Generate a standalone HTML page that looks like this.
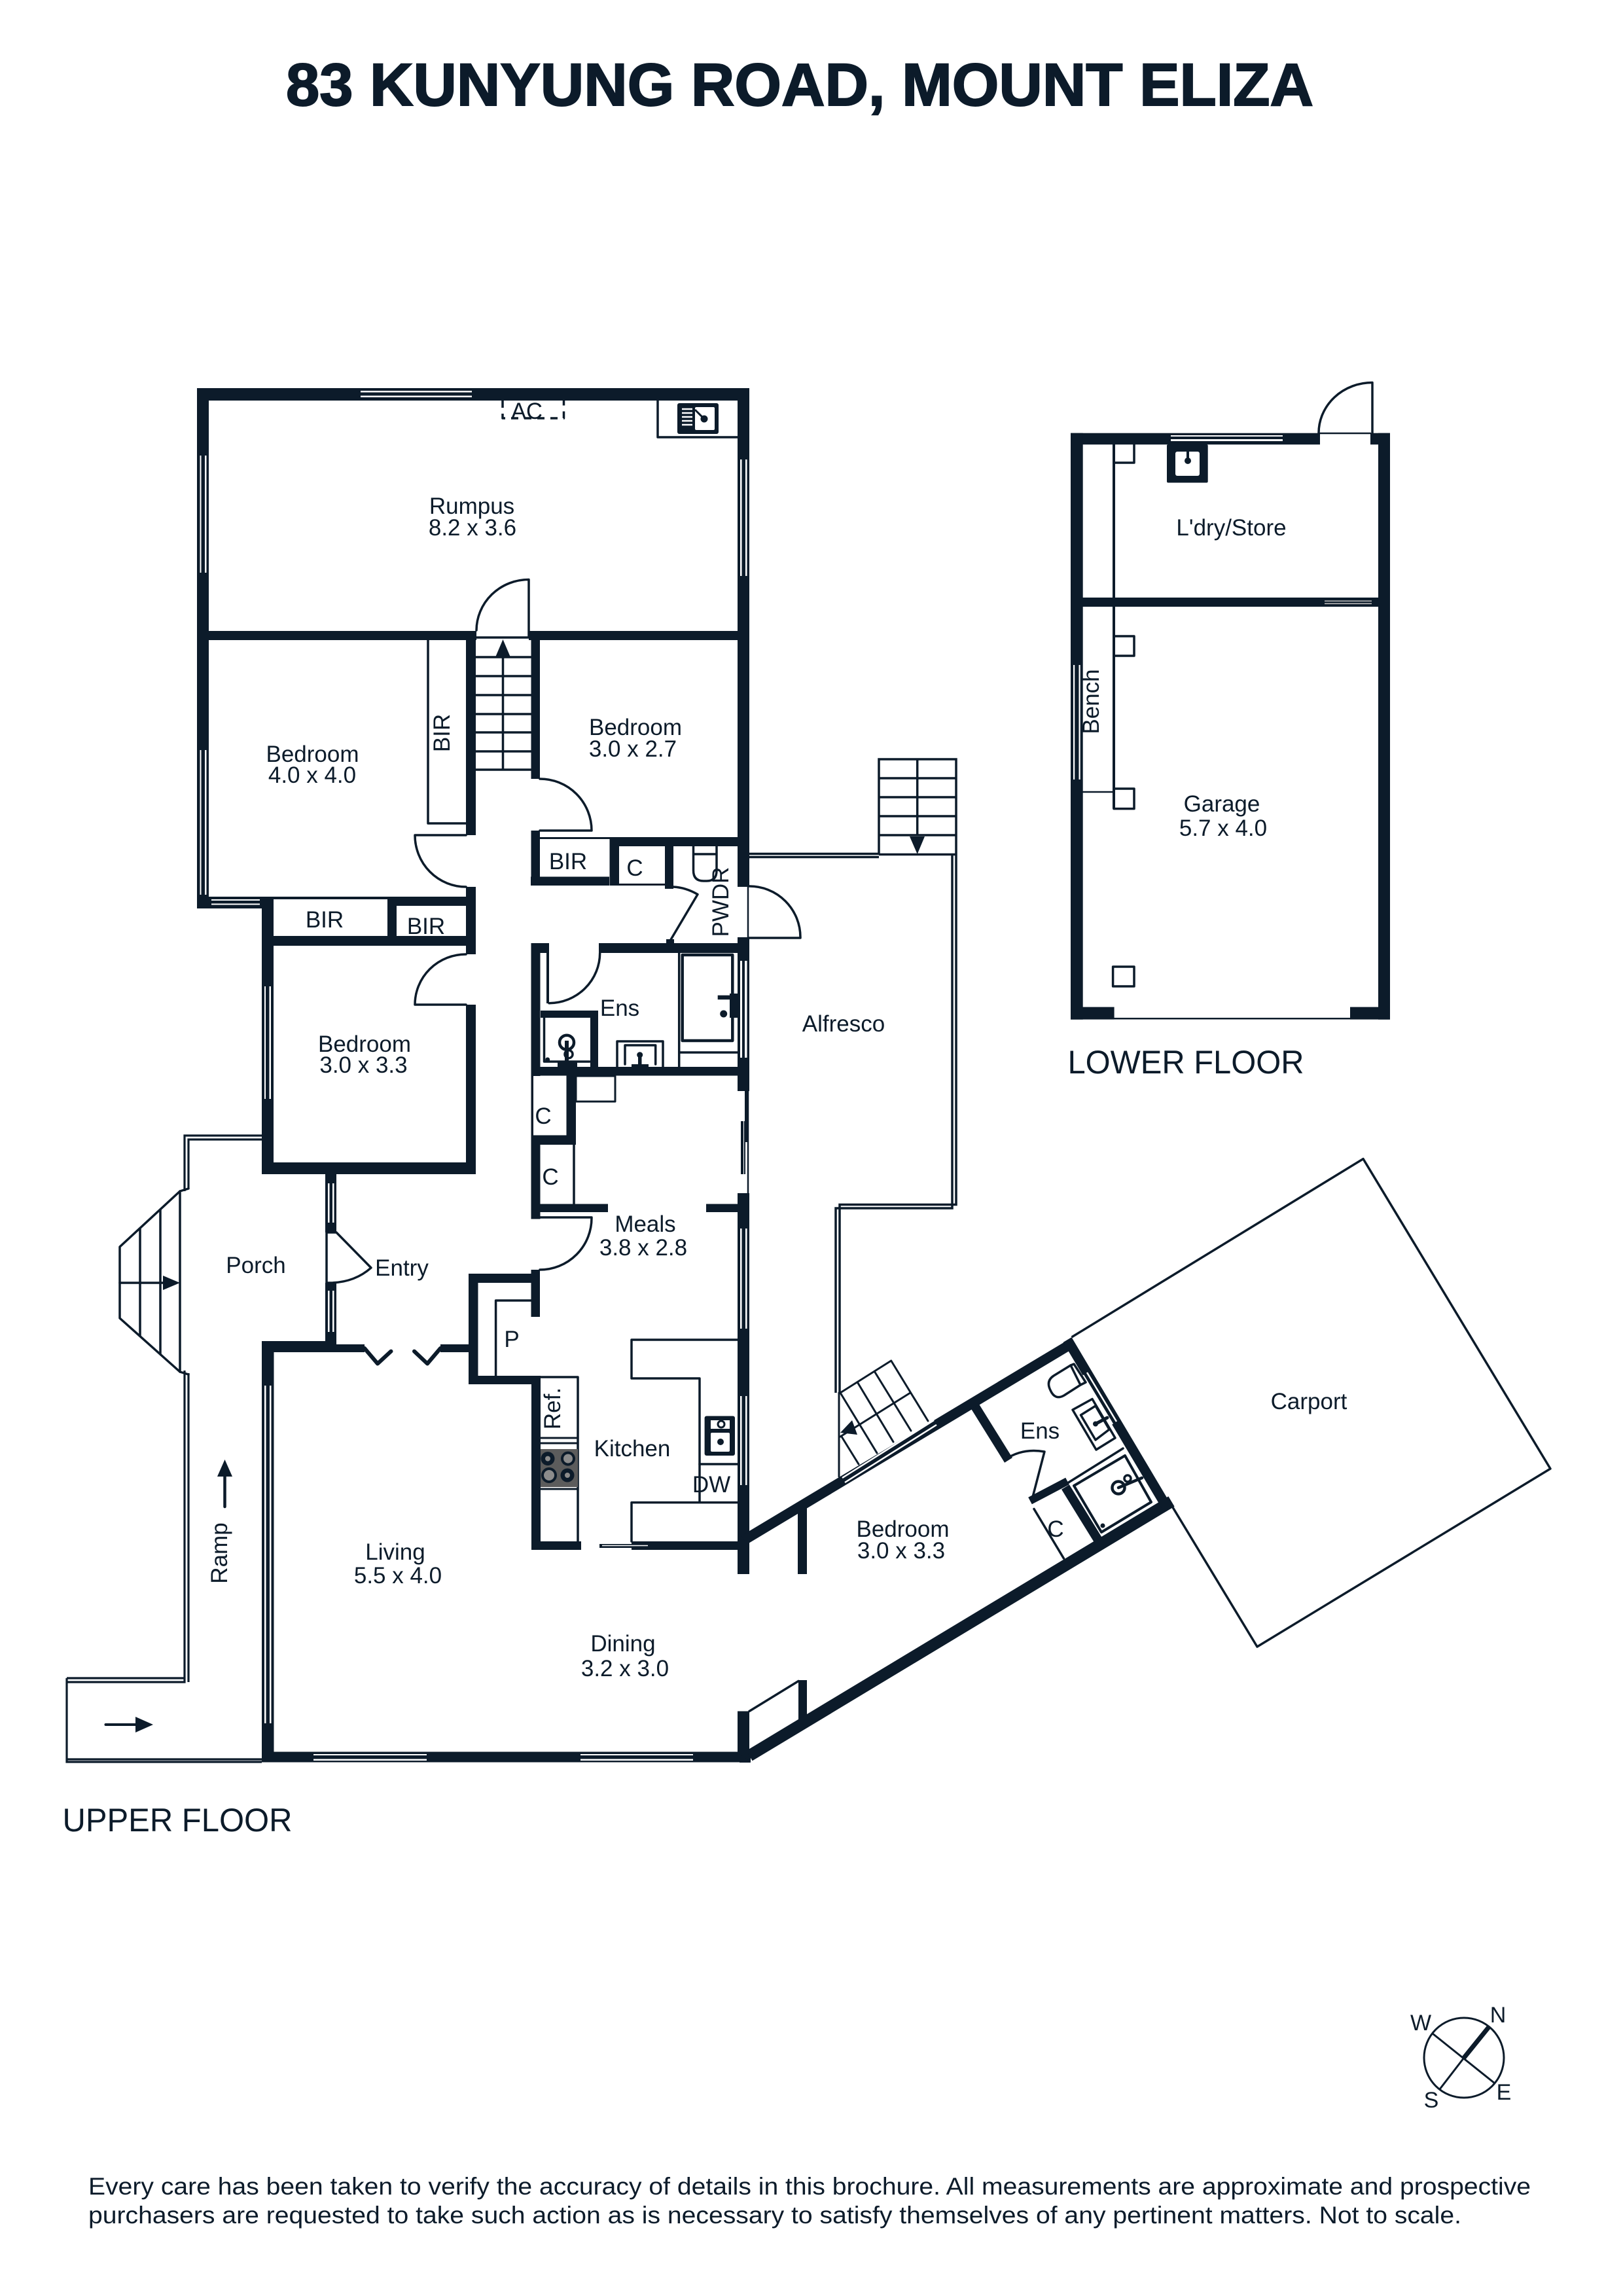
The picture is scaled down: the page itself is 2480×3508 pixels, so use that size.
<!DOCTYPE html>
<html><head><meta charset="utf-8">
<style>
html,body{margin:0;padding:0;background:#fff;width:2480px;height:3508px;overflow:hidden}
svg{display:block}
text{font-family:"Liberation Sans",sans-serif;fill:#0c1b2a;font-size:35px;text-anchor:middle}
.w{fill:#0c1b2a}
.wh{fill:#fff}
.l{fill:none;stroke:#0c1b2a;stroke-width:3.5;stroke-linecap:round;stroke-linejoin:round}
.t{fill:none;stroke:#0c1b2a;stroke-width:2.5}
.ws{fill:none;stroke:#fff;stroke-width:3}
</style></head><body>
<svg width="2480" height="3508" viewBox="0 0 2480 3508" xmlns="http://www.w3.org/2000/svg">
<rect width="2480" height="3508" fill="#fff"/>

<text x="1222" y="161" style="font-size:92px;font-weight:700;stroke:#0c1b2a;stroke-width:2" textLength="1570" lengthAdjust="spacingAndGlyphs">83 KUNYUNG ROAD, MOUNT ELIZA</text>

<!-- UPPER FLOOR WALLS -->
<g class="w">
<rect x="301" y="593" width="844" height="19"/>
<rect x="301" y="593" width="18" height="795"/>
<rect x="301" y="1370" width="99" height="18"/>
<rect x="1127" y="593" width="18" height="762"/>
<rect x="319" y="964" width="409" height="14"/>
<rect x="808" y="964" width="319" height="14"/>
<rect x="712" y="978" width="15" height="298"/>
<rect x="811.5" y="964" width="13.5" height="226"/>
<rect x="712" y="1355" width="15" height="103"/>
<rect x="400" y="1370" width="327" height="4"/>
<rect x="592" y="1370" width="135" height="14"/>
<rect x="400" y="1430" width="312" height="15"/>
<rect x="592" y="1370" width="14" height="75"/>
<rect x="400" y="1370" width="18" height="424"/>
<rect x="400" y="1776" width="327" height="18"/>
<rect x="712" y="1535" width="15" height="259"/>
<rect x="811.5" y="1269" width="13.5" height="84"/>
<rect x="811" y="1339.5" width="120" height="13.5"/>
<rect x="931.5" y="1279" width="14.5" height="74"/>
<rect x="825" y="1279" width="302" height="3"/>
<rect x="946" y="1279" width="181" height="14"/>
<rect x="1016" y="1279" width="13" height="79"/>
<rect x="946" y="1350" width="70" height="3"/>
<rect x="1018" y="1435" width="12" height="8"/>
<!-- ens block -->
<rect x="811.5" y="1441" width="14" height="421"/>
<rect x="811.5" y="1441" width="27.5" height="15"/>
<rect x="835" y="1441" width="4" height="92"/>
<rect x="915" y="1441" width="213" height="15"/>
<rect x="826" y="1544" width="88" height="11"/>
<rect x="902" y="1544" width="12" height="88"/>
<rect x="811.5" y="1630" width="316" height="13.5"/>
<rect x="1127" y="1432" width="18" height="235"/>
<rect x="865.5" y="1643" width="14.5" height="106"/>
<rect x="825" y="1734.5" width="55" height="14.5"/>
<rect x="825" y="1839.5" width="104" height="12.5"/>
<rect x="811.5" y="1852" width="14" height="10.5"/>
<rect x="1079" y="1839.5" width="49" height="12.5"/>
<rect x="1127" y="1823" width="18" height="582"/>
<!-- pantry -->
<rect x="716" y="1946" width="14.5" height="169"/>
<rect x="716" y="1946" width="109" height="14"/>
<rect x="811.5" y="1940" width="13.5" height="72"/>
<rect x="716" y="2102" width="110" height="13"/>
<rect x="812" y="2103" width="14" height="265"/>
<rect x="812" y="2355" width="76" height="13"/>
<rect x="965" y="2355" width="162" height="13"/>
<!-- entry wall -->
<rect x="497" y="1794" width="17" height="89"/>
<rect x="497" y="1960" width="17" height="106"/>
<rect x="400" y="2049" width="114" height="17"/>
<rect x="514" y="2054" width="43" height="12"/>
<rect x="673" y="2054" width="43" height="12"/>
<rect x="400" y="2049" width="18.5" height="643"/>
<rect x="400" y="2676.5" width="747" height="16"/>
<rect x="1127" y="2614.5" width="18" height="70"/>
<rect x="1219" y="2304" width="14" height="101"/>
<rect x="1220" y="2567" width="13" height="68"/>
</g>
<!-- first closet: thin left wall -->
<rect x="815" y="1644" width="50.5" height="90.5" fill="#fff"/>

<!-- angled wing walls -->
<g fill="none" stroke="#0c1b2a" stroke-linecap="butt">
<path d="M1145 2682.6 L1790 2294" stroke-width="18"/>
<path d="M1137 2353 L1634 2055" stroke-width="15.5"/>
<path d="M1631 2047 L1785.5 2307" stroke-width="15"/>
<path d="M1490 2149 L1541 2231" stroke-width="14"/>
<path d="M1574 2293 L1631 2263" stroke-width="12"/>
<path d="M1628 2272 L1678 2353" stroke-width="14"/>
</g>
<path d="M1145 2690 L1147 2693 L1130 2693 L1130 2680 Z" class="w"/>

<!-- windows -->
<g class="wh">
<rect x="551" y="597" width="170" height="2.5"/><rect x="551" y="604.5" width="170" height="2.5"/>
<rect x="305.5" y="696" width="2" height="179"/><rect x="313" y="696" width="2.5" height="179"/>
<rect x="305.5" y="1146" width="2" height="221"/><rect x="313" y="1146" width="2.5" height="221"/>
<rect x="323" y="1374" width="74" height="2"/><rect x="323" y="1380.5" width="74" height="2"/>
<rect x="1131" y="702" width="2.5" height="178"/><rect x="1139" y="702" width="2.5" height="178"/>
<rect x="404" y="1507" width="2" height="172"/><rect x="411.5" y="1507" width="2.5" height="172"/>
<rect x="1131" y="1468" width="3" height="148"/><rect x="1138" y="1468" width="3.5" height="148"/>
<rect x="1131" y="1877" width="2.5" height="153"/><rect x="1139" y="1877" width="2.5" height="153"/>
<rect x="1131" y="2133" width="2.5" height="136"/><rect x="1139" y="2133" width="2.5" height="136"/>
<rect x="501" y="1808" width="2.5" height="60"/><rect x="508" y="1808" width="2.5" height="60"/>
<rect x="501" y="1972" width="2.5" height="63"/><rect x="508" y="1972" width="2.5" height="63"/>
<rect x="404" y="2117" width="2.5" height="516"/><rect x="412" y="2117" width="2.5" height="516"/>
<rect x="479" y="2680" width="173" height="2"/><rect x="479" y="2687.5" width="173" height="2.5"/>
<rect x="887" y="2680" width="172" height="2"/><rect x="887" y="2687.5" width="172" height="2.5"/>
</g>
<g class="ws" style="stroke-width:2.5">
<path d="M1287 2258 L1427 2170"/><path d="M1291 2265 L1431 2177"/>
<path d="M1661 2097 L1706 2172"/><path d="M1655 2101 L1700 2176"/>
</g>

<!-- meals sliding door -->
<g>
<rect x="1127" y="1667" width="18" height="156" fill="#fff"/>
<rect x="1127" y="1661" width="18" height="6" class="w"/>
<path class="t" d="M1143 1667 V1823" />
<rect x="1138" y="1667" width="5" height="78" class="w"/>
<rect x="1132" y="1713" width="7" height="81" class="w"/>
<rect x="1136" y="1713" width="1" height="81" fill="#fff"/>
</g>

<!-- lines rooms -->
<g class="l">
<path d="M728 963 A80 78 0 0 1 808 885.5 V974 H728"/>
<path d="M727 1004H811M727 1033H811M727 1062H811M727 1091H811M727 1119H811M727 1148H811M727 1176H811M768.5 1004V1176"/>
<path d="M654 978 V1258 H712"/>
<path d="M712 1276 H634 A78 79 0 0 0 712 1355"/>
<path d="M712 1535 H634 A78 77 0 0 1 712 1458"/>
<path d="M825 1190 A79 79 0 0 1 904 1269 H825"/>
<path d="M1029 1355 Q1048 1356 1066 1366.5 L1023 1439"/>
<path d="M1059.5 1293 V1330 Q1059.5 1346 1075 1346 H1080 Q1095 1346 1095 1330 V1293 M1059.5 1305 H1095"/>
<path d="M916.7 1456 A78 77 0 0 1 839 1532.7"/>
<path d="M1145 1354 A78 78 0 0 1 1223 1432 V1433 H1145"/>
<path d="M1143 1355 V1432" style="stroke-width:2.5"/>
<path d="M768 612 V639 H861.5 V612" stroke-dasharray="11 9" style="stroke-linecap:butt"/>
<path d="M1005 612 V668 H1127"/>
<path d="M1037.7 1456 V1630 M1038 1608 H1127"/>
<path d="M1042.7 1459 H1119.3 V1590 H1042.7 Z" style="stroke-width:4.5"/>
<path d="M943 1630 V1591 H1013 V1630" />
<path d="M955 1626 V1597 H1001.7 V1626"/>
<path d="M831.5 1555 V1622 H901"/>
<circle cx="866" cy="1592.7" r="11" style="stroke-width:4.5"/>
<circle cx="869" cy="1610.7" r="6"/>
<path d="M880 1644 H940 V1683 H880 V1644" style="stroke-width:3"/>
<path d="M877 1749 V1840"/>
<path d="M825 1860 H904 A79 79 0 0 1 825 1940"/>
<path d="M514 1883 L567 1937 Q540 1961 499 1960 V1883 H514"/>
<path d="M812 1987 H757.6 V2102"/>
<path d="M826 2104 H883 V2355"/>
<path d="M826 2197 H883 M826 2205 H883 M826 2275 H883" style="stroke-width:3"/>
<path d="M1127 2047 H965 V2106 H1069 V2295 M1127 2295.6 H965 V2355"/>
<path d="M1069 2237 H1127"/>
<path d="M557 2060 L577 2083.5 L597.5 2064.6 M673 2060 L653 2083.5 L633 2064.6" style="stroke-width:6"/>
<path d="M1145 2614.5 L1220 2568.5"/>
</g>
<path d="M916 2359 H994 V2365 H916 Z" class="w"/>
<path d="M920 2361.5 H990" stroke="#fff" stroke-width="1.5"/>

<!-- solid bits -->
<g class="w">
<polygon points="768.5,977 757,1004 780,1004"/>
<rect x="1035" y="616" width="63" height="47" rx="3"/>
<rect x="1115" y="1518" width="13" height="37"/>
<rect x="1096.7" y="1520.7" width="19" height="6.5"/>
<circle cx="1105.7" cy="1549" r="5.5"/>
<rect x="863" y="1590" width="6" height="36"/>
<rect x="852" y="1622" width="30" height="8"/>
<circle cx="836.7" cy="1619" r="3.5"/>
<rect x="975" y="1612" width="5.5" height="18"/>
<circle cx="977.7" cy="1611.7" r="4.5"/>
<rect x="965" y="1626" width="26" height="4"/>
<rect x="1076.6" y="2163.5" width="46.4" height="60.5" rx="3"/>
</g>
<!-- rumpus sink details -->
<g>
<rect x="1062" y="622" width="30" height="35" fill="#fff" rx="2"/>
<circle cx="1076" cy="640" r="5.5" class="w"/>
<path d="M1062 626 L1076 640" stroke="#0c1b2a" stroke-width="3"/>
<path d="M1042 625H1058M1042 631H1058M1042 637H1058M1042 643H1058M1042 649H1058" stroke="#fff" stroke-width="2.5"/>
</g>
<!-- kitchen sink -->
<rect x="1086" y="2189" width="29" height="29" fill="#fff" rx="2"/>
<circle cx="1101" cy="2203" r="5" class="w"/>
<rect x="1086" y="2170" width="29" height="13" fill="#fff"/>
<circle cx="1102" cy="2176" r="5" fill="none" stroke="#0c1b2a" stroke-width="3"/>
<!-- stove -->
<rect x="826" y="2214" width="57" height="58" fill="#5c5c5c"/>
<g fill="#0c1b2a">
<circle cx="837" cy="2228.6" r="10.5"/><circle cx="868" cy="2228.6" r="11"/>
<circle cx="839" cy="2254" r="12"/><circle cx="867" cy="2254" r="10.5"/>
</g>
<g fill="#8c8c8c">
<circle cx="837" cy="2228.6" r="4"/><circle cx="868" cy="2228.6" r="7"/>
<circle cx="839" cy="2254" r="8"/><circle cx="867" cy="2254" r="4"/>
</g>

<!-- porch / ramp -->
<g fill="none" stroke="#0c1b2a" stroke-width="3.2">
<path d="M400 1735 H282 V1820 M400 1741 H288 V1816"/>
<path d="M282 2094 V2570 H102 M288 2098 V2570 M102 2564 H282"/>
<path d="M102 2564 V2692 H400 M102 2688 H400"/>
</g>
<g class="l">
<path d="M288 1816 L275 1820 L183 1905 V2014 L275 2096 L288 2100"/>
<path d="M275 1820 V2096 M214 1877 V2041 M245 1848 V2069 M183 1960 H250"/>
<path d="M343.5 2302 V2250" style="stroke-width:4.5"/>
<path d="M161.5 2635 H210" style="stroke-width:4"/>
</g>
<g class="w">
<polygon points="249,1949 275,1960 249,1971"/>
<polygon points="343.5,2230 332,2256 355,2256"/>
<polygon points="207,2623 234,2635 207,2647"/>
</g>

<!-- alfresco -->
<g fill="none" stroke="#0c1b2a" stroke-width="3.5">
<path d="M1145 1304.5 H1343 V1160 H1461 V1306 M1145 1309.5 H1343"/>
<path d="M1343 1189 H1461 M1343 1218 H1461 M1343 1247 H1461 M1343 1276 H1461 M1343 1305.5 H1461 M1401.7 1159 V1276"/>
<path d="M1455 1306 V1846 H1277 V2128 M1461 1306 V1840.5 H1283 V2128"/>
</g>
<polygon class="w" points="1390,1278 1413,1278 1401.7,1305"/>
<g class="l" style="stroke-width:3">
<path d="M1282 2128 V2256"/>
<path d="M1284 2128 L1361.7 2079 L1418 2171"/>
<path d="M1284 2128 L1340 2220 M1310.6 2112.5 L1365 2203 M1337 2096.6 L1392 2186 M1284 2195 L1391 2128 M1286 2195 L1312 2237"/>
</g>
<polygon class="w" points="1284,2189 1302,2170 1310,2192"/>

<!-- wing fixtures -->
<g class="l">
<path d="M1536 2230 Q1562 2212 1596 2218 L1577 2291"/>
<path d="M1628 2268 L1716 2213"/>
<path d="M1580 2305.5 L1625.4 2381"/>
<path d="M1641 2270 L1719 2224 L1759 2295 L1683 2341 Z" style="stroke-width:4"/>
<circle cx="1709" cy="2273" r="9.5" style="stroke-width:4.5"/>
<circle cx="1723" cy="2259" r="5"/>
<path d="M1709 2273 L1745 2258" style="stroke-width:4.5"/>
<path d="M1639 2154 L1669 2137.5 L1704 2197 L1675 2215 Z"/>
<path d="M1651.5 2162 L1674 2148 L1695 2184 L1674 2200 Z"/>
<path d="M1674 2175.5 L1692 2166" style="stroke-width:5"/>
<path d="M1636 2086 L1610 2102 Q1598 2110 1605 2124 Q1612 2140 1626 2132 L1651 2116 Z"/>
<path d="M1636 2086 L1641 2084 L1659 2112 L1651 2116"/>
</g>
<circle class="w" cx="1674" cy="2175.5" r="4"/>
<circle class="w" cx="1685" cy="2331" r="3.5"/>

<!-- carport -->
<path d="M1637.5 2043 L2083 1770.6 L2369 2244 L1921 2516 L1792 2303" fill="none" stroke="#0c1b2a" stroke-width="3.5" stroke-linejoin="round"/>

<!-- LOWER FLOOR -->
<g class="w">
<rect x="1636" y="661.7" width="381" height="17.5"/>
<rect x="2094" y="661.7" width="30" height="17.5"/>
<rect x="1636" y="661.7" width="18.7" height="896"/>
<rect x="2106" y="661.7" width="18" height="896"/>
<rect x="1654" y="913" width="452" height="14"/>
<rect x="1636" y="1538.6" width="66.6" height="19"/>
<rect x="2063" y="1538.6" width="61" height="19"/>
<rect x="1700" y="1555" width="365" height="2.5"/>
<rect x="1700" y="679" width="4" height="556.6"/>
<rect x="1783" y="679" width="62.7" height="58.5" rx="2"/>
</g>
<g class="wh">
<rect x="1789" y="665" width="171" height="2"/><rect x="1789" y="671" width="171" height="3"/>
<rect x="2024" y="917.5" width="72" height="1.6" fill="#bbb"/><rect x="2024" y="921.5" width="72" height="1.6" fill="#bbb"/>
<rect x="1640" y="1016" width="2.2" height="175"/><rect x="1648.5" y="1016" width="2.2" height="175"/>
<rect x="1796" y="690" width="37" height="37" rx="3"/>
</g>
<circle class="w" cx="1815" cy="704" r="5"/>
<rect class="w" x="1813" y="690" width="4" height="14"/>
<g class="l">
<path d="M1702 707 H1733 V679"/>
<path d="M1702 972 H1733 V1002 H1702"/>
<path d="M1702 1205 H1733 V1235.6 H1702"/>
<rect x="1700.6" y="1477" width="32.4" height="30"/>
<path d="M2015 662 A82 77 0 0 1 2097 584.5 V665"/>
<path d="M2017 662 H2094" style="stroke-width:2.5"/>
<path d="M1654 1210 H1700" style="stroke-width:2.5"/>
</g>

<!-- Labels -->
<text x="805" y="640" textLength="48" lengthAdjust="spacingAndGlyphs">AC</text>
<text x="721" y="785">Rumpus</text>
<text x="722" y="818">8.2 x 3.6</text>
<text x="477.5" y="1164">Bedroom</text>
<text x="477" y="1196">4.0 x 4.0</text>
<text x="971" y="1123">Bedroom</text>
<text x="967" y="1156">3.0 x 2.7</text>
<text transform="translate(687,1120) rotate(-90)">BIR</text>
<text x="868" y="1328">BIR</text>
<text x="970" y="1338">C</text>
<text x="496" y="1417">BIR</text>
<text x="651" y="1427">BIR</text>
<text transform="translate(1113,1378) rotate(-90)">PWDR</text>
<text x="947" y="1552">Ens</text>
<text x="557" y="1607">Bedroom</text>
<text x="555.5" y="1639">3.0 x 3.3</text>
<text x="830" y="1717">C</text>
<text x="847" y="1810" style="display:none"></text>
<text x="847" y="1811" style="display:none"></text>
<text x="841" y="1810">C</text>
<text x="986" y="1882">Meals</text>
<text x="983" y="1918">3.8 x 2.8</text>
<text x="391" y="1945">Porch</text>
<text x="616" y="1949" style="display:none"></text>
<text x="614" y="1949">Entry</text>
<text x="782" y="2058">P</text>
<text transform="translate(856,2152) rotate(-90)">Ref.</text>
<text x="968" y="2225" style="display:none"></text>
<text x="975" y="2225" style="display:none"></text>
<text x="973" y="2225" style="display:none"></text>
<text x="973" y="2224" style="display:none"></text>
<text x="973" y="2226" style="display:none"></text>
<text x="975" y="2229" style="display:none"></text>
<text x="975" y="2227" style="display:none"></text>
<text x="975" y="2223" style="display:none"></text>
<text x="975" y="2222" style="display:none"></text>
<text x="975" y="2221" style="display:none"></text>
<text x="975" y="2220" style="display:none"></text>
<text x="975" y="2219" style="display:none"></text>
<text x="975" y="2218" style="display:none"></text>
<text x="975" y="2217" style="display:none"></text>
<text x="975" y="2216" style="display:none"></text>
<text x="966" y="2225">Kitchen</text>
<text x="1087" y="2280">DW</text>
<text x="604" y="2383">Living</text>
<text x="608" y="2419">5.5 x 4.0</text>
<text x="952" y="2523">Dining</text>
<text x="955" y="2561">3.2 x 3.0</text>
<text transform="translate(347,2373) rotate(-90)">Ramp</text>
<text x="1289" y="1576">Alfresco</text>
<text x="1589" y="2198">Ens</text>
<text x="1379.5" y="2348">Bedroom</text>
<text x="1377" y="2381">3.0 x 3.3</text>
<text x="1613" y="2348">C</text>
<text x="2000" y="2153">Carport</text>
<text x="1881.5" y="818">L'dry/Store</text>
<text transform="translate(1679,1072) rotate(-90)">Bench</text>
<text x="1867" y="1240">Garage</text>
<text x="1869" y="1277">5.7 x 4.0</text>

<text x="1812" y="1640" style="font-size:50px" textLength="361" lengthAdjust="spacingAndGlyphs">LOWER FLOOR</text>
<text x="271" y="2798" style="font-size:50px" textLength="351" lengthAdjust="spacingAndGlyphs">UPPER FLOOR</text>

<!-- compass -->
<g fill="none" stroke="#0c1b2a" stroke-width="3">
<circle cx="2237" cy="3144" r="61"/>
<path d="M2200 3192 L2237 3144 M2189 3107 L2284 3183"/>
<path d="M2237 3144 L2275 3097" stroke-width="7"/>
</g>
<text x="2289" y="3090" style="font-size:34px">N</text>
<text x="2171" y="3102" style="font-size:34px">W</text>
<text x="2187" y="3220" style="font-size:34px">S</text>
<text x="2298" y="3208" style="font-size:34px">E</text>

<!-- footer -->
<text x="135" y="3353" style="font-size:37px;text-anchor:start" textLength="2204" lengthAdjust="spacingAndGlyphs">Every care has been taken to verify the accuracy of details in this brochure. All measurements are approximate and prospective</text>
<text x="135" y="3397" style="font-size:37px;text-anchor:start" textLength="2098" lengthAdjust="spacingAndGlyphs">purchasers are requested to take such action as is necessary to satisfy themselves of any pertinent matters. Not to scale.</text>
</svg>
</body></html>
